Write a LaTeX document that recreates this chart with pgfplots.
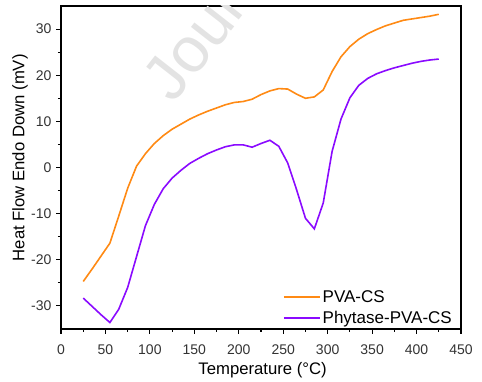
\documentclass[border=0pt]{standalone}
\usepackage{fontspec}
\setmainfont{Liberation Sans}
\usepackage{pgfplots}
\pgfplotsset{compat=1.18}
\definecolor{orangeC}{RGB}{255,138,20}
\definecolor{purpleC}{RGB}{138,10,255}
\begin{document}
\begin{tikzpicture}
\path[use as bounding box] (-61pt,-53pt) rectangle (421pt,329pt);
\begin{axis}[
  at={(0,0)}, anchor=south west,
  scale only axis, width=400pt, height=323pt,
  xmin=0, xmax=450, ymin=-35, ymax=35,
  xtick={0,50,...,450}, ytick={-30,-20,...,30},
  minor x tick num=1, minor y tick num=1,
  xtick pos=bottom, ytick pos=left,
  tick align=outside,
  major tick length=5pt, minor tick length=3pt,
  axis line style={line width=1.4pt},
  every tick/.style={black, line width=1.1pt},
  /pgf/number format/assume math mode=true,
  tick label style={font=\fontsize{14}{16}\selectfont, text=black!80},
  xticklabel style={yshift=-7pt},
  yticklabel style={xshift=-1pt},
  xlabel={Temperature (°C)},
  ylabel={Heat Flow Endo Down (mV)},
  label style={font=\fontsize{16.7}{19}\selectfont},
  xlabel style={at={(axis description cs:0.504,-0.127)}, anchor=center},
  ylabel style={at={(axis description cs:-0.1025,0.53)}, anchor=center, rotate=0},
  legend style={draw=none, fill=none, at={(axis description cs:0.99,0.0)}, anchor=south east,
    font=\fontsize{17}{19}\selectfont, row sep=3pt},
  legend cell align=left,
  legend image code/.code={\draw[#1, line width=1.6pt] (0pt,0pt) -- (36pt,0pt);},
]
\node[overlay, rotate=52, anchor=base west, text=black!11, font=\fontsize{64}{70}\selectfont]
  at (axis cs:124,13) {Journal Pre-proof};
\addplot[color=orangeC, line width=1.6pt] coordinates {
(25,-24.7) (35,-22.0) (45,-19.2) (55,-16.4) (65,-10.5) (75,-4.5) (85,0.3) (95,3.0)
(105,5.2) (115,6.9) (125,8.3) (135,9.4) (145,10.5) (155,11.4) (165,12.2) (175,12.9)
(185,13.6) (195,14.1) (205,14.3) (215,14.8) (225,15.8) (235,16.6) (245,17.1) (255,17.0)
(265,15.9) (275,15.0) (285,15.3) (295,16.8) (305,20.8) (315,24.0) (325,26.2) (335,27.8)
(345,29.0) (355,29.9) (365,30.7) (375,31.3) (385,31.9) (395,32.2) (405,32.5) (415,32.8) (425,33.2)
};
\addlegendentry{PVA-CS}
\addplot[color=purpleC, line width=1.6pt] coordinates {
(25,-28.3) (35,-30.1) (45,-31.9) (55,-33.6) (65,-30.7) (75,-26.0) (85,-19.3) (95,-12.6)
(105,-8.0) (115,-4.6) (125,-2.3) (135,-0.6) (145,0.9) (155,2.0) (165,3.0) (175,3.8)
(185,4.5) (195,4.9) (205,4.9) (215,4.4) (225,5.2) (235,5.9) (245,4.6) (255,1.0)
(265,-4.8) (275,-11.0) (285,-13.3) (295,-7.7) (305,3.5) (315,10.5) (325,15.1) (335,17.8)
(345,19.3) (355,20.3) (365,21.0) (375,21.6) (385,22.1) (395,22.6) (405,23.0) (415,23.3) (425,23.5)
};
\addlegendentry{Phytase-PVA-CS}
\end{axis}
\end{tikzpicture}
\end{document}
